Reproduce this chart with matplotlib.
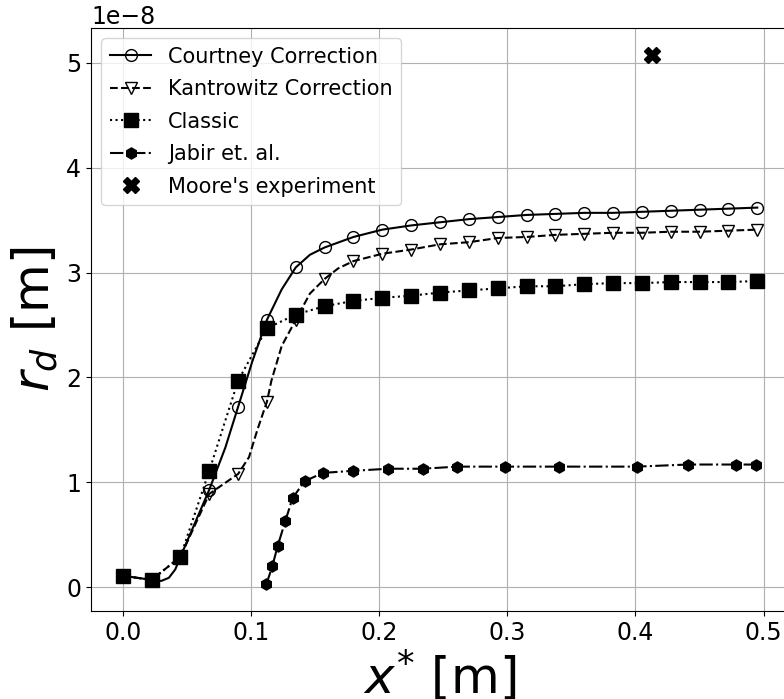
import numpy as np
import matplotlib
matplotlib.use("Agg")
import matplotlib.pyplot as plt

label_fontsize = 36
tick_fontsize = 17
legend_fontsize = 15
line_width = 1.5

# x positions of the solver output (markers)
x_grid = [0.0, 0.0225, 0.045, 0.0675, 0.09, 0.1125, 0.135, 0.1575, 0.18, 0.2025,
          0.225, 0.2475, 0.27, 0.2925, 0.315, 0.3375, 0.36, 0.3825, 0.405, 0.4275,
          0.45, 0.4725, 0.495]

# Courtney correction: curve, markers at x_grid points
courtney_x = [0.0, 0.0225, 0.03, 0.036, 0.041, 0.045, 0.0675, 0.08, 0.09, 0.101,
              0.1125, 0.124, 0.135, 0.146, 0.1575, 0.18, 0.2025, 0.225, 0.2475, 0.27,
              0.2925, 0.315, 0.3375, 0.36, 0.3825, 0.405, 0.4275, 0.45, 0.4725, 0.495]
courtney_y = [0.11, 0.07, 0.06, 0.09, 0.17, 0.29, 0.93, 1.33, 1.72, 2.15,
              2.55, 2.84, 3.05, 3.17, 3.24, 3.34, 3.41, 3.45, 3.48, 3.51,
              3.53, 3.55, 3.56, 3.57, 3.57, 3.58, 3.59, 3.60, 3.61, 3.62]
courtney_marks = [0, 1, 5, 6, 8, 10, 12] + list(range(14, 30))

# Kantrowitz correction
kantrowitz_x = [0.0, 0.0225, 0.045, 0.0675, 0.09, 0.0985, 0.105, 0.1125, 0.116, 0.124,
                0.135, 0.146, 0.1575, 0.168, 0.18, 0.2025, 0.225, 0.2475, 0.27, 0.2925,
                0.315, 0.3375, 0.36, 0.3825, 0.405, 0.4275, 0.45, 0.4725, 0.495]
kantrowitz_y = [0.11, 0.07, 0.29, 0.89, 1.08, 1.24, 1.50, 1.77, 1.97, 2.30,
                2.55, 2.80, 2.94, 3.04, 3.11, 3.18, 3.22, 3.27, 3.29, 3.33,
                3.34, 3.36, 3.37, 3.38, 3.38, 3.39, 3.39, 3.40, 3.41]
kantrowitz_marks = [0, 1, 2, 3, 4, 7, 10, 12] + list(range(14, 29))

# Classic
classic_y = [0.11, 0.07, 0.29, 1.11, 1.97, 2.47, 2.60, 2.68, 2.73, 2.76,
             2.78, 2.81, 2.83, 2.85, 2.87, 2.87, 2.89, 2.90, 2.90, 2.91,
             2.91, 2.91, 2.92]

# Jabir et. al.
jabir_x = [0.112, 0.1167, 0.1208, 0.1268, 0.1325, 0.1418, 0.156, 0.1795, 0.2073,
           0.234, 0.2609, 0.2983, 0.340, 0.401, 0.4406, 0.4786, 0.494]
jabir_y = [0.026, 0.20, 0.39, 0.63, 0.85, 1.01, 1.09, 1.11, 1.13,
           1.13, 1.15, 1.15, 1.15, 1.15, 1.17, 1.17, 1.17]

# Moore's experiment
moore_x = [0.413]
moore_y = [5.08]

scale = 1e-8

fig = plt.figure(figsize=(7.84, 6.99), dpi=100)
# axes run past the right edge of the figure, like the original crop
ax = fig.add_axes([91 / 784, 88 / 699, 698 / 784, 583 / 699])

ax.plot(courtney_x, np.array(courtney_y) * scale, '-', marker='o', color='black',
        markerfacecolor='none', markersize=8.5, linewidth=line_width,
        markevery=courtney_marks, label='Courtney Correction')
ax.plot(kantrowitz_x, np.array(kantrowitz_y) * scale, '--', marker='v', color='black',
        markerfacecolor='none', markersize=8.5, linewidth=line_width,
        markevery=kantrowitz_marks, label='Kantrowitz Correction')
ax.plot(x_grid, np.array(classic_y) * scale, ':', marker='s', color='black',
        markersize=9.5, linewidth=line_width, label='Classic')
ax.plot(jabir_x, np.array(jabir_y) * scale, '-.', marker='h', color='black',
        markersize=8, linewidth=line_width, label='Jabir et. al.')
ax.plot(moore_x, np.array(moore_y) * scale, 'X', color='black',
        markersize=11, label="Moore's experiment")

ax.grid(True, which="major")
ax.set_axisbelow(True)
ax.tick_params(labelsize=tick_fontsize)
ax.yaxis.get_offset_text().set_fontsize(tick_fontsize)
ax.set_xlabel('$x^{*}$ [m]', fontsize=label_fontsize, labelpad=2)
ax.set_ylabel('$r_d$ [m]', fontsize=label_fontsize)
ax.legend(loc='upper left', fontsize=legend_fontsize, labelspacing=0.6)

plt.savefig('out.png', dpi=100)
